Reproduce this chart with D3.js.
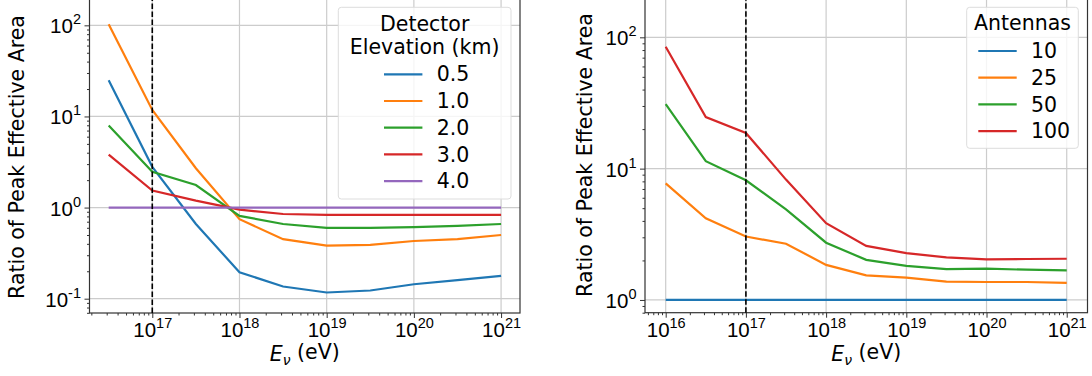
<!DOCTYPE html>
<html>
<head>
<meta charset="utf-8">
<script src="https://cdn.jsdelivr.net/npm/d3@7"></script>
<style>
  body { margin: 0; background: #fff; }
  svg { font-family: "DejaVu Sans", sans-serif; }
</style>
</head>
<body>
<svg width="1092" height="376"></svg>
<script>
// energies (log10 eV)
const energyLeft = [16.5, 17, 17.5, 18, 18.5, 19, 19.5, 20, 20.5, 21];
const energyRight = [16, 16.5, 17, 17.5, 18, 18.5, 19, 19.5, 20, 20.5, 21];

// left panel: detector elevation
const elevLabels = ["0.5", "1.0", "2.0", "3.0", "4.0"];
const elev05 = [25, 2.8, 0.66, 0.195, 0.136, 0.117, 0.123, 0.144, 0.16, 0.178];
const elev10 = [103, 11.8, 2.7, 0.745, 0.45, 0.383, 0.39, 0.43, 0.45, 0.50];
const elev20 = [7.95, 2.47, 1.77, 0.81, 0.66, 0.60, 0.60, 0.61, 0.63, 0.66];
const elev30 = [3.82, 1.54, 1.19, 0.95, 0.85, 0.83, 0.83, 0.83, 0.83, 0.83];
const elev40 = [1, 1, 1, 1, 1, 1, 1, 1, 1, 1];

// right panel: number of antennas
const antLabels = ["10", "25", "50", "100"];
const ant10 = [1, 1, 1, 1, 1, 1, 1, 1, 1, 1, 1];
const ant25 = [7.72, 4.19, 3.04, 2.68, 1.85, 1.54, 1.48, 1.38, 1.37, 1.37, 1.35];
const ant50 = [31, 11.4, 8.15, 4.9, 2.73, 2.02, 1.82, 1.72, 1.73, 1.70, 1.68];
const ant100 = [84.8, 24.7, 18.7, 8.25, 3.84, 2.58, 2.27, 2.11, 2.04, 2.05, 2.06];

const colors = ["#1f77b4", "#ff7f0e", "#2ca02c", "#d62728", "#9467bd"];
const FS = "20.5px";

const svg = d3.select("svg");

// "10" with exponent
function supLabel(sel, exp) {
    sel.text(null);
    sel.append("tspan").text("10");
    sel.append("tspan").attr("dy", "-0.62em").style("font-size", "14.5px").text(exp);
}

function drawPanel(cfg) {
    const { left, right, bottom, top, xDom, yDom, energies, series, labels, title } = cfg;
    const scX = d3.scaleLog().domain(xDom.map(d => Math.pow(10, d))).range([left, right]);
    const scY = d3.scaleLog().domain(yDom.map(d => Math.pow(10, d))).range([bottom, top]);
    const g = svg.append("g");

    const xMajor = d3.range(Math.ceil(xDom[0]), Math.floor(xDom[1]) + 1);
    const yMajor = d3.range(Math.ceil(yDom[0]), Math.floor(yDom[1]) + 1);
    const minor = (dom) => {
        let arr = [];
        for (let e = Math.floor(dom[0]); e <= Math.ceil(dom[1]); e++)
            for (let m = 2; m <= 9; m++) {
                const v = e + Math.log10(m);
                if (v >= dom[0] && v <= dom[1]) arr.push(Math.pow(10, v));
            }
        return arr;
    };

    // grid
    g.selectAll(".gx").data(xMajor).enter().append("line")
        .attr("x1", d => scX(Math.pow(10, d))).attr("x2", d => scX(Math.pow(10, d)))
        .attr("y1", bottom).attr("y2", top)
        .attr("stroke", "#cccccc").attr("stroke-width", 1.2);
    g.selectAll(".gy").data(yMajor).enter().append("line")
        .attr("y1", d => scY(Math.pow(10, d))).attr("y2", d => scY(Math.pow(10, d)))
        .attr("x1", left).attr("x2", right)
        .attr("stroke", "#cccccc").attr("stroke-width", 1.2);

    // axes
    const gx = g.append("g").attr("transform", `translate(0,${bottom})`)
        .call(d3.axisBottom(scX).tickValues(xMajor.map(d => Math.pow(10, d))).tickSize(5).tickFormat(""));
    gx.selectAll(".tick text").remove();
    gx.selectAll(".tick").append("text")
        .attr("y", 24).attr("text-anchor", "middle").attr("fill", "#000")
        .style("font-size", FS)
        .each(function(d) { supLabel(d3.select(this), Math.round(Math.log10(d))); });
    g.append("g").attr("transform", `translate(0,${bottom})`)
        .call(d3.axisBottom(scX).tickValues(minor(xDom)).tickSize(2.5).tickFormat(""));

    const gy = g.append("g").attr("transform", `translate(${left},0)`)
        .call(d3.axisLeft(scY).tickValues(yMajor.map(d => Math.pow(10, d))).tickSize(5).tickFormat(""));
    gy.selectAll(".tick text").remove();
    gy.selectAll(".tick").append("text")
        .attr("x", -8.5).attr("y", 7.5).attr("text-anchor", "end").attr("fill", "#000")
        .style("font-size", FS)
        .each(function(d) { supLabel(d3.select(this), Math.round(Math.log10(d))); });
    g.append("g").attr("transform", `translate(${left},0)`)
        .call(d3.axisLeft(scY).tickValues(minor(yDom)).tickSize(2.5).tickFormat(""));

    g.selectAll(".domain").remove();
    g.selectAll(".tick line").attr("stroke", "#333");

    // frame
    g.append("rect").attr("x", left).attr("y", top).attr("width", right - left).attr("height", bottom - top)
        .attr("fill", "none").attr("stroke", "#333").attr("stroke-width", 1.2);

    // lines
    const line = d3.line().x(d => scX(Math.pow(10, d[0]))).y(d => scY(d[1]));
    series.forEach((s, i) => {
        g.append("path").datum(energies.map((e, j) => [e, s[j]]))
            .attr("d", line).attr("fill", "none")
            .attr("stroke", colors[i]).attr("stroke-width", 2.2);
    });

    // vertical dashed line at 1e17
    g.append("line")
        .attr("x1", scX(1e17)).attr("x2", scX(1e17)).attr("y1", bottom).attr("y2", top)
        .attr("stroke", "#000").attr("stroke-width", 1.6).attr("stroke-dasharray", "5.5,2.5");

    // axis labels
    const xl = g.append("text").attr("x", (left + right) / 2).attr("y", bottom + 48)
        .attr("text-anchor", "middle").style("font-size", FS);
    xl.append("tspan").style("font-style", "italic").text("E");
    xl.append("tspan").attr("dy", "0.3em").style("font-size", "14px").style("font-style", "italic").text("ν");
    xl.append("tspan").attr("dy", "-0.3em").text(" (eV)");
    g.append("text")
        .attr("transform", `translate(${cfg.yLabelX},${cfg.yLabelY}) rotate(-90)`)
        .attr("text-anchor", "middle").attr("dy", "0.35em")
        .style("font-size", FS).text("Ratio of Peak Effective Area");

    // legend
    const lg = cfg.legend;
    g.append("rect").attr("x", lg.x).attr("y", lg.y).attr("width", lg.w).attr("height", lg.h)
        .attr("rx", 3).attr("fill", "#fff").attr("fill-opacity", 0.8)
        .attr("stroke", "#dddddd").attr("stroke-width", 1);
    title.forEach((t, i) => {
        g.append("text").attr("x", lg.x + lg.w / 2).attr("y", lg.titleY + i * 22.7)
            .attr("dy", "0.35em").attr("text-anchor", "middle").style("font-size", FS).text(t);
    });
    labels.forEach((lab, i) => {
        const yy = lg.entryY + i * 26.7;
        g.append("line").attr("x1", lg.hx).attr("x2", lg.hx + 38.4).attr("y1", yy).attr("y2", yy)
            .attr("stroke", colors[i]).attr("stroke-width", 2.2);
        g.append("text").attr("x", lg.hx + 52.7).attr("y", yy).attr("dy", "0.35em")
            .style("font-size", FS).text(lab);
    });
}

drawPanel({
    left: 89.5, right: 520, bottom: 313, top: -3,
    xDom: [16.28, 21.217], yDom: [-1.157, 2.311],
    energies: energyLeft,
    series: [elev05, elev10, elev20, elev30, elev40],
    labels: elevLabels, title: ["Detector", "Elevation (km)"],
    yLabelX: 17, yLabelY: 157,
    legend: { x: 338.3, y: 7.3, w: 172.7, h: 191.7, titleY: 24, entryY: 74.3, hx: 384 }
});

drawPanel({
    left: 645, right: 1087.5, bottom: 312.7, top: -3,
    xDom: [15.742, 21.259], yDom: [-0.097, 2.307],
    energies: energyRight,
    series: [ant10, ant25, ant50, ant100],
    labels: antLabels, title: ["Antennas"],
    yLabelX: 585, yLabelY: 155,
    legend: { x: 966.7, y: 7.3, w: 111.6, h: 141, titleY: 23.3, entryY: 51, hx: 978.3 }
});
</script>
</body>
</html>
